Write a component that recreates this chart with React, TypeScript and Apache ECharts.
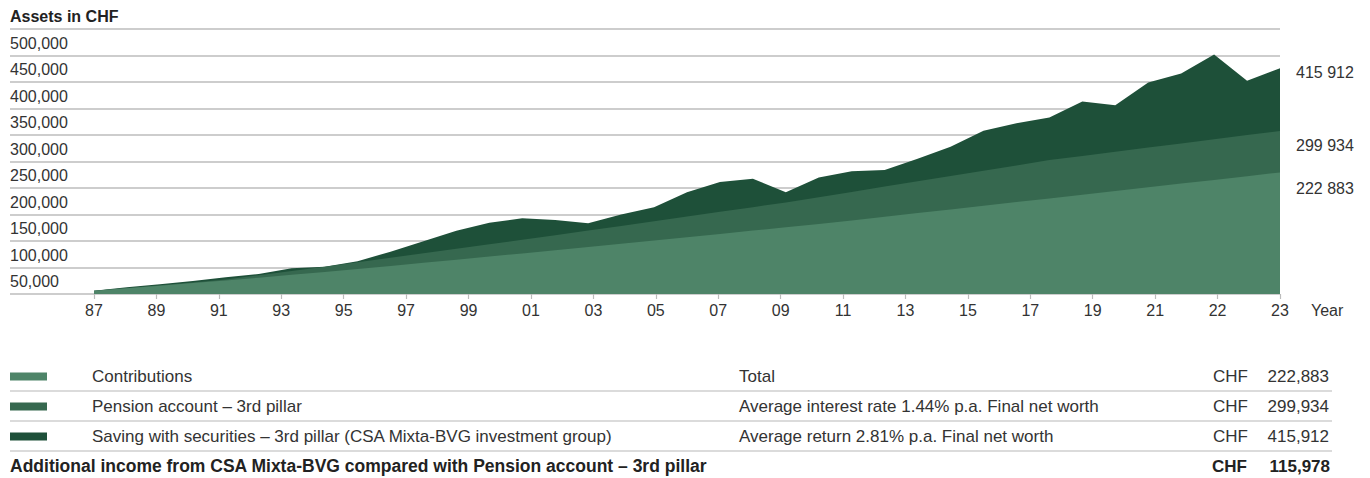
import React, { useEffect, useRef } from 'react';
import * as echarts from 'echarts';

const years = [
  '1987', '1988', '1989', '1990', '1991', '1992', '1993', '1994', '1995', '1996',
  '1997', '1998', '1999', '2000', '2001', '2002', '2003', '2004', '2005', '2006',
  '2007', '2008', '2009', '2010', '2011', '2012', '2013', '2014', '2015', '2016',
  '2017', '2018', '2019', '2020', '2021', '2022', '2023',
];

const tickLabels = [
  '87', '89', '91', '93', '95', '97', '99', '01', '03', '05',
  '07', '09', '11', '13', '15', '17', '19', '21', '22', '23',
];

// values in CHF
const contributions = [
  6200, 11000, 15800, 20600, 25400, 30800, 36200, 41600, 47000, 52900,
  58800, 64700, 70600, 76500, 82400, 88600, 94800, 101000, 107200, 113400,
  119600, 125800, 132000, 138900, 145800, 152700, 159600, 166500, 173400, 180300,
  187300, 194300, 201300, 208300, 215300, 222300, 229300,
];

const pensionAccount = [
  6000, 11300, 16600, 21900, 27500, 35400, 43400, 51400, 59900, 68400,
  76900, 85400, 93900, 102400, 110900, 119700, 128500, 137400, 146200, 155100,
  163900, 172800, 182600, 192600, 202600, 212600, 222600, 232600, 242600, 252600,
  260400, 268300, 276200, 284100, 292000, 299800, 307500,
];

const securities = [
  6200, 12600, 18200, 24500, 31400, 37700, 48400, 51600, 62000, 79800,
  99400, 119500, 134500, 142800, 139600, 133300, 150000, 163600, 191800, 211300,
  217600, 191800, 220000, 231700, 234000, 255000, 278000, 308000, 322000, 333000,
  363000, 356000, 399000, 416000, 452000, 402500, 426000,
];

const seriesNames = [
  'Contributions',
  'Pension account – 3rd pillar',
  'Saving with securities – 3rd pillar (CSA Mixta-BVG investment group)',
];
const rowDescriptions = [
  'Total',
  'Average interest rate 1.44% p.a. Final net worth',
  'Average return 2.81% p.a. Final net worth',
];
const finalValues = [222883, 299934, 415912];
const endLabelY = [188.5, 145, 72.5];
const additionalLabel = 'Additional income from CSA Mixta-BVG compared with Pension account – 3rd pillar';
const additionalIncome = 115978;

const colors = ['#4e8468', '#36684f', '#1e5039'];
const FONT = '"Liberation Sans", Arial, Helvetica, sans-serif';
const TXT = '#333333';
const GRID_COLOR = '#bcbcbc';

const fmtComma = (v: number) => v.toLocaleString('en-US');
const fmtSpace = (v: number) => v.toLocaleString('en-US').replace(/,/g, ' ');

export default function App() {
  const ref = useRef<HTMLDivElement>(null);

  useEffect(() => {
    if (!ref.current) return;
    const chart = echarts.init(ref.current, undefined, { renderer: 'svg' });

    const rowY = [376.5, 406.5, 436.5];
    const graphic: any[] = [];

    graphic.push({
      type: 'text', x: 10, y: 16,
      style: { text: 'Assets in CHF', font: `bold 16px ${FONT}`, fill: '#222', verticalAlign: 'middle' },
    });

    finalValues.forEach((v, i) => {
      graphic.push({
        type: 'text', x: 1296, y: endLabelY[i],
        style: { text: fmtSpace(v), font: `16px ${FONT}`, fill: TXT, verticalAlign: 'middle' },
      });
    });

    [391, 421, 451].forEach((y) => {
      graphic.push({
        type: 'line', shape: { x1: 10, y1: y, x2: 1332, y2: y },
        style: { stroke: '#cfcfcf', lineWidth: 1.5 },
      });
    });

    rowDescriptions.forEach((t, i) => {
      graphic.push({
        type: 'text', x: 739, y: rowY[i],
        style: { text: t, font: `17px ${FONT}`, fill: TXT, verticalAlign: 'middle' },
      });
      graphic.push({
        type: 'text', x: 1213, y: rowY[i],
        style: { text: 'CHF', font: `17px ${FONT}`, fill: TXT, verticalAlign: 'middle' },
      });
      graphic.push({
        type: 'text', x: 1329, y: rowY[i],
        style: { text: fmtComma(finalValues[i]), font: `17px ${FONT}`, fill: TXT, align: 'right', verticalAlign: 'middle' },
      });
    });

    graphic.push({
      type: 'text', x: 10, y: 466,
      style: { text: additionalLabel, font: `bold 17.5px ${FONT}`, fill: '#222', verticalAlign: 'middle' },
    });
    graphic.push({
      type: 'text', x: 1212, y: 466,
      style: { text: 'CHF', font: `bold 17px ${FONT}`, fill: '#222', verticalAlign: 'middle' },
    });
    graphic.push({
      type: 'text', x: 1330, y: 466,
      style: { text: fmtComma(additionalIncome), font: `bold 17px ${FONT}`, fill: '#222', align: 'right', verticalAlign: 'middle' },
    });

    const areaSeries = (name: string, data: number[], color: string, z: number) => ({
      name,
      type: 'line',
      xAxisIndex: 1,
      yAxisIndex: 1,
      data,
      showSymbol: false,
      symbol: 'none',
      z,
      color,
      lineStyle: { width: 0, color },
      itemStyle: { color },
      areaStyle: { color, opacity: 1 },
      emphasis: { disabled: true },
    });

    chart.setOption({
      animation: false,
      textStyle: { fontFamily: FONT },
      grid: [
        { left: 10, right: 90, top: 29, bottom: 184, containLabel: false },
        { left: 94, right: 90, top: 29, bottom: 184, containLabel: false },
      ],
      xAxis: [
        { gridIndex: 0, type: 'value', min: 0, max: 1, show: false },
        {
          gridIndex: 1, type: 'category', data: years, boundaryGap: false, show: false,
        },
        {
          gridIndex: 1, type: 'category', data: tickLabels, boundaryGap: false, position: 'bottom',
          axisLine: { show: false },
          axisTick: { show: true, length: 5, lineStyle: { color: GRID_COLOR, width: 1.2 } },
          axisLabel: { fontSize: 16, color: TXT, margin: 8, interval: 0, fontFamily: FONT },
          splitLine: { show: false },
          name: 'Year',
          nameLocation: 'end',
          nameGap: 31,
          nameTextStyle: { fontSize: 16, color: TXT, align: 'left', verticalAlign: 'top', padding: [8, 0, 0, 0], fontFamily: FONT },
        },
      ],
      yAxis: [
        {
          gridIndex: 0, type: 'value', min: 0, max: 500000, interval: 50000,
          axisLine: { show: false },
          axisTick: { show: false },
          splitLine: { show: true, lineStyle: { color: GRID_COLOR, width: 1.5 } },
          axisLabel: {
            inside: true, margin: 0, fontSize: 16, color: TXT, verticalAlign: 'top',
            padding: [6, 0, 0, 0], fontFamily: FONT,
            formatter: (v: number) => (v === 0 ? '' : fmtComma(v)),
          },
        },
        { gridIndex: 1, type: 'value', min: 0, max: 500000, show: false },
      ],
      legend: {
        orient: 'vertical',
        left: 10,
        top: 366.5,
        padding: 0,
        itemGap: 10,
        itemWidth: 37,
        itemHeight: 8,
        icon: 'rect',
        selectedMode: false,
        data: seriesNames,
        textStyle: { fontSize: 17, color: TXT, lineHeight: 20, padding: [0, 0, 0, 40], fontFamily: FONT },
      },
      graphic,
      series: [
        areaSeries(seriesNames[2], securities, colors[2], 2),
        areaSeries(seriesNames[1], pensionAccount, colors[1], 3),
        areaSeries(seriesNames[0], contributions, colors[0], 4),
      ],
    });

    return () => chart.dispose();
  }, []);

  return (
    <div
      ref={ref}
      style={{ position: 'absolute', left: 0, top: 0, width: 1370, height: 478, background: '#fff' }}
    />
  );
}
